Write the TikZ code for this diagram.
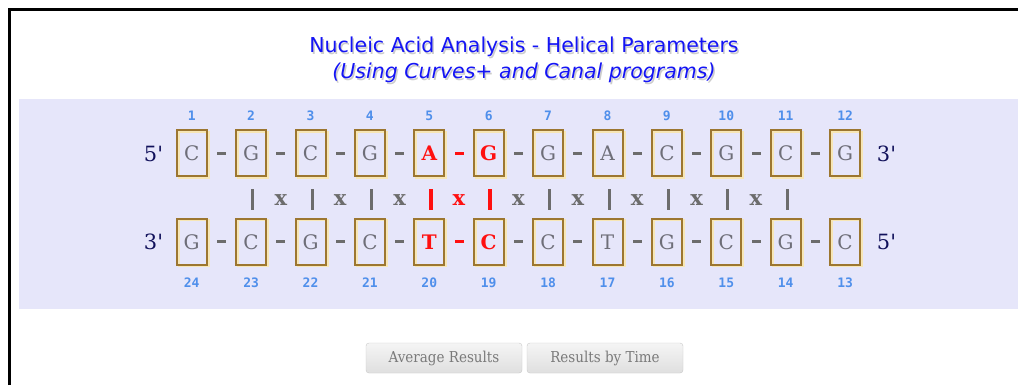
\documentclass[tikz,border=0pt]{standalone}
\usepackage{fontspec}
\setmainfont{DejaVu Serif}
\newfontfamily\titlefont{DejaVu Sans}
\newfontfamily\primefont{DejaVu Serif}
\newfontfamily\numfont{DejaVu Sans Mono}
\newfontfamily\btnfont[FakeStretch=0.9]{DejaVu Serif}
\definecolor{band}{HTML}{E6E6FA}
\definecolor{titleblue}{HTML}{1414F5}
\definecolor{boxbrown}{HTML}{9C7630}
\definecolor{boxshade}{HTML}{F7E6B5}
\definecolor{lettergray}{HTML}{6E6E78}
\definecolor{markgray}{HTML}{6C6C6C}
\definecolor{hired}{HTML}{FF1010}
\definecolor{numblue}{HTML}{4F8FEB}
\definecolor{primenavy}{HTML}{10105A}
\definecolor{btntext}{HTML}{7A7A7A}
\definecolor{btnborder}{HTML}{C9C9C9}
\tikzset{
  titlest/.style={font=\titlefont\fontsize{20.5bp}{24bp}\selectfont, text=titleblue, anchor=base, inner sep=0},
  titleshade/.style={font=\titlefont\fontsize{20.5bp}{24bp}\selectfont, text=black, opacity=0.2, anchor=base, inner sep=0},
  basebox/.style={draw=boxbrown, line width=2bp, minimum width=30bp, minimum height=46bp, inner sep=0},
  gl/.style={font=\fontsize{20bp}{20bp}\selectfont, text=lettergray, anchor=base, inner sep=0},
  rl/.style={font=\bfseries\fontsize{20bp}{20bp}\selectfont, text=hired, anchor=base, inner sep=0},
  dashmark/.style={fill=markgray, minimum width=9bp, minimum height=3bp, inner sep=0, outer sep=0},
  reddash/.style={dashmark, fill=hired},
  barmark/.style={fill=markgray, minimum width=3bp, minimum height=21bp, inner sep=0, outer sep=0},
  redbar/.style={barmark, fill=hired, minimum width=3.5bp},
  xmark/.style={font=\bfseries\fontsize{21bp}{20bp}\selectfont, text=markgray, anchor=base, inner sep=0},
  redx/.style={xmark, text=hired},
  numst/.style={font=\numfont\bfseries\fontsize{13bp}{13bp}\selectfont, text=numblue, anchor=base, inner sep=0},
  primest/.style={font=\primefont\fontsize{21bp}{22bp}\selectfont, text=primenavy, anchor=base, inner sep=0},
  btn/.style={draw=btnborder, rounded corners=3bp, top color=gray!8, bottom color=gray!25, minimum width=156bp, minimum height=30bp, inner sep=0, font=\btnfont\fontsize{15bp}{16bp}\selectfont, text=btntext}
}
\begin{document}
\begin{tikzpicture}[x=1bp, y=-1bp]
\fill[white] (0,0) rectangle (1018,385);
\useasboundingbox (0,0) rectangle (1018,385);
\fill[band] (19,99) rectangle (1018,309);
\draw[line width=3bp] (9.5,385) -- (9.5,9.5) -- (1018,9.5);
% title
\node[titleshade] (t1s) at (525.5,54) {Nucleic Acid Analysis - Helical Parameters};
\node[titlest] (t1) at (524,52) {Nucleic Acid Analysis - Helical Parameters};
\node[titleshade] (t2s) at (525.5,80) {\itshape (Using Curves+ and Canal programs)};
\node[titlest] (t2) at (524,78) {\itshape (Using Curves+ and Canal programs)};
% top strand
\foreach \L/\s [count=\i] in {C/gl,G/gl,C/gl,G/gl,A/rl,G/rl,G/gl,A/gl,C/gl,G/gl,C/gl,G/gl} {
  \pgfmathsetmacro\cx{191.7+59.4*(\i-1)}
  \draw[boxshade, line width=2bp] (\cx-13,132) rectangle (\cx+17,178);
  \node[basebox] (tb\i) at (\cx,153) {};
  \node[\s] (tl\i) at (\cx,160.8) {\L};
  \node[numst] (tn\i) at (\cx,120.8) {\i};
}
\foreach \i in {1,...,11} {
  \pgfmathsetmacro\dx{191.7+59.4*(\i-1)+29.7}
  \ifnum\i=5
    \node[reddash] (td\i) at (\dx,153.3) {};
  \else
    \node[dashmark] (td\i) at (\dx,153.3) {};
  \fi
}
% bottom strand
\foreach \L/\s [count=\i] in {G/gl,C/gl,G/gl,C/gl,T/rl,C/rl,C/gl,T/gl,G/gl,C/gl,G/gl,C/gl} {
  \pgfmathsetmacro\cx{191.7+59.4*(\i-1)}
  \pgfmathtruncatemacro\n{25-\i}
  \draw[boxshade, line width=2bp] (\cx-13,220) rectangle (\cx+17,266);
  \node[basebox] (bb\i) at (\cx,241.5) {};
  \node[\s] (bl\i) at (\cx,249.4) {\L};
  \node[numst] (bn\i) at (\cx,287.3) {\n};
}
\foreach \i in {1,...,11} {
  \pgfmathsetmacro\dx{191.7+59.4*(\i-1)+29.7}
  \ifnum\i=5
    \node[reddash] (bd\i) at (\dx,241.7) {};
  \else
    \node[dashmark] (bd\i) at (\dx,241.7) {};
  \fi
}
% pairing row
\foreach \i in {2,...,11} {
  \pgfmathsetmacro\cx{191.7+59.4*(\i-1)+1.5}
  \ifnum\i=5
    \node[redbar] (pb\i) at (\cx,199) {};
  \else\ifnum\i=6
    \node[redbar] (pb\i) at (\cx,199) {};
  \else
    \node[barmark] (pb\i) at (\cx,199) {};
  \fi\fi
}
\foreach \i in {2,...,10} {
  \pgfmathsetmacro\dx{191.7+59.4*(\i-1)+29.7}
  \ifnum\i=5
    \node[redx] (px\i) at (\dx,205) {x};
  \else
    \node[xmark] (px\i) at (\dx,205) {x};
  \fi
}
% strand ends
\node[primest] (p5a) at (153.5,161.5) {5'};
\node[primest] (p3a) at (886.5,161.5) {3'};
\node[primest] (p3b) at (153.5,249.3) {3'};
\node[primest] (p5b) at (886.5,249.3) {5'};
% buttons
\node[btn] (avg) at (444,358) {Average Results};
\node[btn] (bytime) at (605,358) {Results by Time};
\end{tikzpicture}
\end{document}
